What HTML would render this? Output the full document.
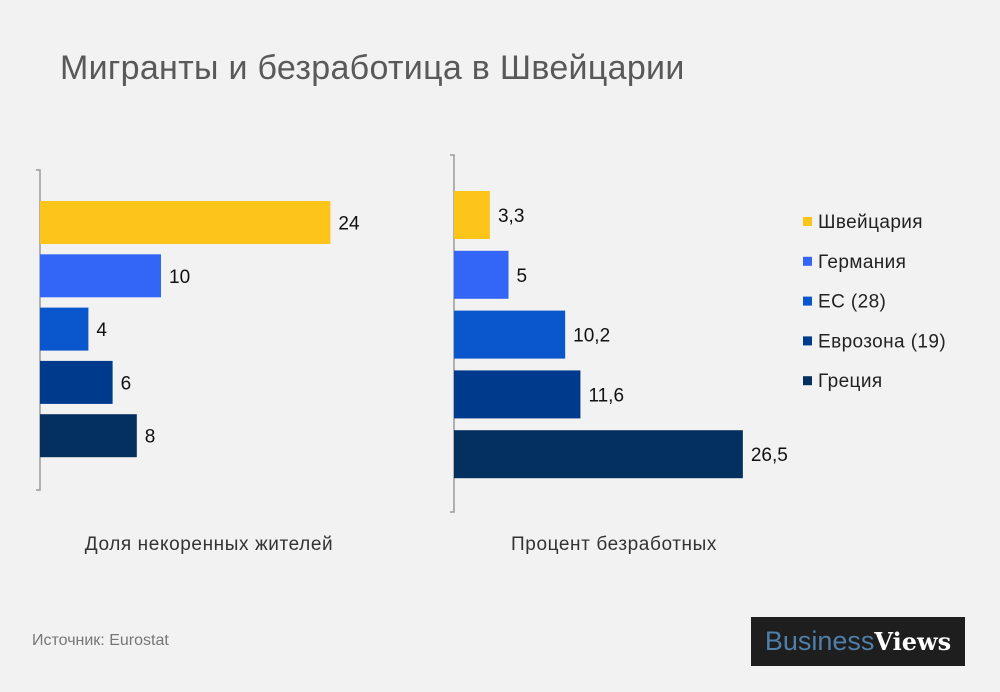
<!DOCTYPE html>
<html><head><meta charset="utf-8"><style>
body{margin:0;width:1000px;height:692px;background:#f2f2f2;font-family:"Liberation Sans",sans-serif;overflow:hidden;position:relative}
.t{position:absolute;white-space:nowrap}
</style></head><body>
<div class="t" style="left:60px;top:49px;font-size:34px;letter-spacing:0.3px;color:#595959;">Мигранты и безработица в Швейцарии</div>
<svg id="c" width="1000" height="692" style="position:absolute;left:0;top:0"></svg>
<div class="t" style="left:32px;top:632px;font-size:16px;color:#777;">Источник: Eurostat</div>
<div class="t" style="left:751px;top:617px;width:214px;height:49px;background:#1e1e1e;font-size:27px;line-height:49px;text-align:center;"><span style="color:#4f7ea8">Business</span><span style="color:#fff;font-weight:bold;font-family:'DejaVu Serif',serif;font-size:24px">Views</span></div>
<script>
const categories=["Швейцария","Германия","ЕС (28)","Еврозона (19)","Греция"];
const colors=["#fdc41a","#3366f7","#0a56cc","#003a8c","#03305f"];
const migrants=[24,10,4,6,8];
const migrantLabels=["24","10","4","6","8"];
const unemployment=[3.3,5,10.2,11.6,26.5];
const unemploymentLabels=["3,3","5","10,2","11,6","26,5"];
const svg=document.getElementById('c');const NS='http://www.w3.org/2000/svg';
function mk(t,a,p){const e=document.createElementNS(NS,t);for(const k in a)e.setAttribute(k,a[k]);(p||svg).appendChild(e);return e;}
function panel(vals,labels,x0,scale,y0,pitch,h,axTop,axBot,title,tx,name){
 const ax=mk('path',{d:`M${x0-4} ${axTop}H${x0}V${axBot}H${x0-4}`,fill:'none',stroke:'#999','stroke-width':1.5});
 
 
 vals.forEach((v,i)=>{const y=y0+i*pitch;const w=v*scale;
  const r=mk('rect',{x:x0,y:y,width:w,height:h,fill:colors[i]});
  
  
  const t=mk('text',{x:x0+w+8,y:y+h/2+7,'font-size':19,fill:'#111'});t.textContent=labels[i];
  
  
 });
 const tt=mk('text',{x:tx,y:550,'font-size':19,'letter-spacing':0.6,fill:'#333','text-anchor':'middle'});tt.textContent=title;
 
 
}
panel(migrants,migrantLabels,40,12.1,201,53.3,43,170,490,"Доля некоренных  жителей",209,'migrants');
panel(unemployment,unemploymentLabels,454,10.9,191,59.8,48,155,512,"Процент  безработных",614,'unemployment');
categories.forEach((c,i)=>{const y=222+i*39.8;
 const s=mk('rect',{x:803,y:y-5,width:9,height:9,fill:colors[i]});
 
 
 const t=mk('text',{x:818,y:y+6,'font-size':19,'letter-spacing':0.4,fill:'#222'});t.textContent=c;
 
 
});
</script>
</body></html>
